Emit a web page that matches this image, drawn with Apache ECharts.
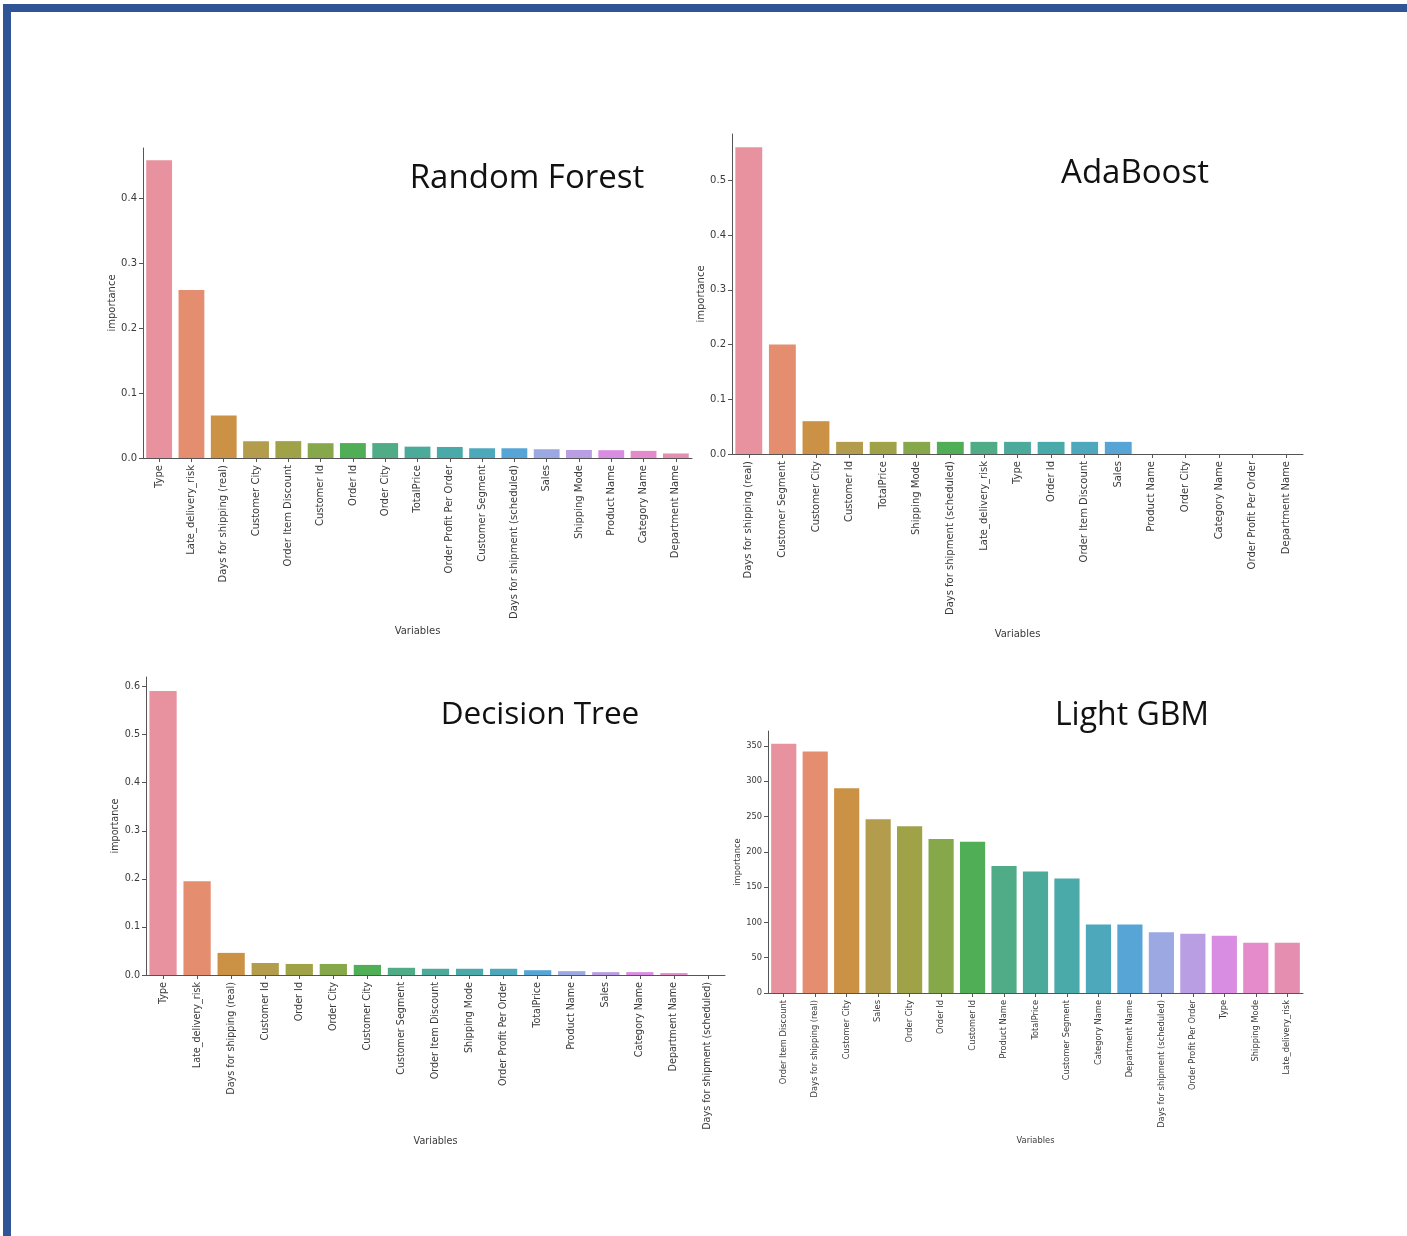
<!DOCTYPE html>
<html>
<head>
<meta charset="utf-8">
<style>
html,body{margin:0;padding:0;background:#fff;}
#chart{width:1407px;height:1236px;}
</style>
<script src="https://cdn.jsdelivr.net/npm/echarts@6/dist/echarts.min.js"></script>
</head>
<body>
<div id="chart"></div>
<script>
// ---------------- data ----------------
const rfCats = ['Type','Late_delivery_risk','Days for shipping (real)','Customer City','Order Item Discount','Customer Id','Order Id','Order City','TotalPrice','Order Profit Per Order','Customer Segment','Days for shipment (scheduled)','Sales','Shipping Mode','Product Name','Category Name','Department Name'];
const rfVals = [0.459,0.259,0.0655,0.0258,0.026,0.0228,0.023,0.023,0.0175,0.017,0.015,0.015,0.0135,0.0124,0.012,0.011,0.007];

const adaCats = ['Days for shipping (real)','Customer Segment','Customer City','Customer Id','TotalPrice','Shipping Mode','Days for shipment (scheduled)','Late_delivery_risk','Type','Order Id','Order Item Discount','Sales','Product Name','Order City','Category Name','Order Profit Per Order','Department Name'];
const adaVals = [0.561,0.2,0.06,0.0222,0.0222,0.0222,0.0222,0.0222,0.0222,0.0222,0.0222,0.0222,0,0,0,0,0];

const dtCats = ['Type','Late_delivery_risk','Days for shipping (real)','Customer Id','Order Id','Order City','Customer City','Customer Segment','Order Item Discount','Shipping Mode','Order Profit Per Order','TotalPrice','Product Name','Sales','Category Name','Department Name','Days for shipment (scheduled)'];
const dtVals = [0.591,0.195,0.046,0.025,0.023,0.023,0.021,0.015,0.013,0.013,0.013,0.010,0.008,0.006,0.006,0.004,0];

const lgbCats = ['Order Item Discount','Days for shipping (real)','Customer City','Sales','Order City','Order Id','Customer Id','Product Name','TotalPrice','Customer Segment','Category Name','Department Name','Days for shipment (scheduled)','Order Profit Per Order','Type','Shipping Mode','Late_delivery_risk'];
const lgbVals = [353,342,290,246,236,218,214,180,172,162,97,97,86,84,81,71,71];

const rfTicks = [0,0.1,0.2,0.3,0.4];
const adaTicks = [0,0.1,0.2,0.3,0.4,0.5];
const dtTicks = [0,0.1,0.2,0.3,0.4,0.5,0.6];
const lgbTicks = [0,50,100,150,200,250,300,350];

const titles = ['Random Forest','AdaBoost','Decision Tree','Light GBM'];
const xName = 'Variables';
const yName = 'importance';

// ---------------- styles ----------------
const palette = ['#E8919F','#E48E6F','#CB9245','#B39C4B','#A0A248','#86A74A','#4FAE56','#4FAC86','#4CAA9A','#4AA9A9','#4DA8BC','#56A5D6','#9BA8E2','#BA9EE3','#D88DE2','#E58BCB','#E68EB0'];
const axisColor = '#555';
const textColor = '#3a3a3a';
const tickFont = 'DejaVu Sans';

const panels = [
  {cats: rfCats, vals: rfVals, ticks: rfTicks, grid:{left:143, top:148, width:549, height:310}, max:0.4777, fs:10, dec:1, yGap:23, xGap:168},
  {cats: adaCats, vals: adaVals, ticks: adaTicks, grid:{left:732, top:134, width:571, height:320}, max:0.585, fs:10, dec:1, yGap:24, xGap:175},
  {cats: dtCats, vals: dtVals, ticks: dtTicks, grid:{left:146, top:677, width:579, height:298}, max:0.62, fs:9.6, dec:1, yGap:25, xGap:161},
  {cats: lgbCats, vals: lgbVals, ticks: lgbTicks, grid:{left:768, top:731, width:535, height:262}, max:371, fs:8.3, dec:0, yGap:25, xGap:144}
];

const grids = [], xAxes = [], yAxes = [], series = [];
panels.forEach((p, i) => {
  grids.push(Object.assign({outerBoundsMode:'none', containLabel:false}, p.grid));
  xAxes.push({
    type:'category', gridIndex:i, data:p.cats,
    name:xName, nameLocation:'middle', nameGap:p.xGap,
    nameTextStyle:{fontFamily:tickFont, fontSize:p.fs, color:textColor},
    axisLine:{show:true, lineStyle:{color:axisColor, width:1}},
    axisTick:{show:true, alignWithLabel:true, length:4, lineStyle:{color:axisColor}},
    axisLabel:{interval:0, rotate:90, margin:7, fontFamily:tickFont, fontSize:p.fs, color:textColor},
    splitLine:{show:false}
  });
  yAxes.push({
    type:'value', gridIndex:i, min:0, max:p.max,
    name:yName, nameLocation:'middle', nameGap:p.yGap,
    nameTextStyle:{fontFamily:tickFont, fontSize:p.fs, color:textColor},
    axisLine:{show:true, lineStyle:{color:axisColor, width:1}},
    axisTick:{show:true, length:4, lineStyle:{color:axisColor}, customValues:p.ticks},
    axisLabel:{margin:6, fontFamily:tickFont, fontSize:p.fs, color:textColor, customValues:p.ticks,
      formatter:(v)=>Number(v).toFixed(p.dec)},
    splitLine:{show:false}
  });
  series.push({
    type:'bar', xAxisIndex:i, yAxisIndex:i, data:p.vals,
    barCategoryGap:'20%',
    itemStyle:{color:(d)=>palette[d.dataIndex % palette.length]},
    silent:true, animation:false
  });
});

const titleStyle = [
  {left:522, top:157, size:33},
  {left:1130, top:152, size:33},
  {left:535, top:694, size:31.5},
  {left:1127, top:695, size:32}
];

const option = {
  backgroundColor:'#fff',
  animation:false,
  title: titles.map((t, i) => ({
    text:t, left:titleStyle[i].left, top:titleStyle[i].top, textAlign:'center',
    textStyle:{fontFamily:'Open Sans', fontSize:titleStyle[i].size, fontWeight:'normal', color:'#111'}
  })),
  grid: grids, xAxis: xAxes, yAxis: yAxes, series: series,
  graphic:[
    {type:'rect', shape:{x:3, y:4, width:1404, height:8}, style:{fill:'#2F5597'}, silent:true},
    {type:'rect', shape:{x:3, y:4, width:8, height:1232}, style:{fill:'#2F5597'}, silent:true}
  ]
};

const chart = echarts.init(document.getElementById('chart'), null, {renderer:'canvas'});
chart.setOption(option);
</script>
</body>
</html>
